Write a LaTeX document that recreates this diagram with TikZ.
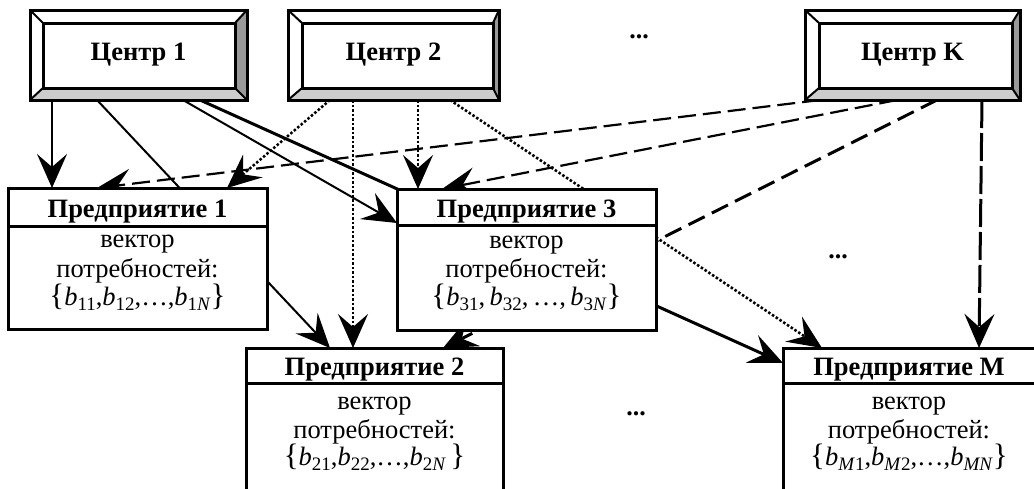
\documentclass[tikz,border=0pt]{standalone}
\usepackage{fontspec}
\setmainfont{Liberation Serif}
\usetikzlibrary{arrows.meta,calc}
\pgfdeclarelayer{bg}
\pgfsetlayers{bg,main}
\newcommand{\bb}[1]{\textit{b}\raisebox{-5pt}{\fontsize{19}{19}\selectfont #1}}
\newcommand{\lbr}{{\fontsize{31}{31}\selectfont\{}}
\newcommand{\rbr}{{\fontsize{31}{31}\selectfont\}}}
\newcommand{\bevel}[5]{%
  \fill[bevR] (#1.north east) -- (#1.south east) -- ([shift={(-#4,-#5)}]#1.south east) -- ([shift={(-#4,#3)}]#1.north east) -- cycle;
  \fill[bevB] (#1.south west) -- (#1.south east) -- ([shift={(-#4,-#5)}]#1.south east) -- ([shift={(#2,-#5)}]#1.south west) -- cycle;
  \draw[bevline] ([shift={(#2,#3)}]#1.north west) rectangle ([shift={(-#4,-#5)}]#1.south east);
  \draw[bevdiag] (#1.north west) -- ([shift={(#2,#3)}]#1.north west)
     (#1.north east) -- ([shift={(-#4,#3)}]#1.north east)
     (#1.south west) -- ([shift={(#2,-#5)}]#1.south west)
     (#1.south east) -- ([shift={(-#4,-#5)}]#1.south east);
  \draw[bevline] (#1.north west) rectangle (#1.south east);
}
\begin{document}
\begin{tikzpicture}[x=1pt,y=-1pt,
  >={Stealth[length=34pt,width=30pt,inset=13pt]},
  font=\fontsize{26.5}{30}\selectfont,
  centre/.style={fill=white, minimum width=#1pt, minimum height=90pt, inner sep=0pt, outer sep=0pt, font=\fontsize{26.5}{30}\selectfont\bfseries},
  bevR/.style={fill=black!40},
  bevB/.style={fill=black!20},
  bevline/.style={line width=3pt},
  bevdiag/.style={line width=2pt},
  ent/.style 2 args={draw, line width=3pt, fill=white, minimum width=#1pt, minimum height=#2pt, inner sep=0pt, outer sep=0pt},
  hdr/.style={anchor=base, inner sep=0pt, font=\fontsize{26.5}{30}\selectfont\bfseries},
  txt/.style={anchor=base, inner sep=0pt},
  divider/.style={line width=3pt},
  solidc/.style={->, line width=2pt},
  boldc/.style={->, line width=3pt},
  dotc/.style={->, line width=2.5pt, dash pattern=on 2.5pt off 2pt},
  dashc/.style={->, line width=2.2pt, dash pattern=on 18pt off 7pt},
  dashbold/.style={->, line width=3pt, dash pattern=on 18pt off 8pt},
  longdash/.style={->, line width=3pt, dash pattern=on 28pt off 5pt},
  dotsn/.style={anchor=base, inner sep=0pt, font=\fontsize{26}{29}\selectfont\bfseries}
]
\useasboundingbox (0,0) rectangle (1034,488);

% centres
\node[centre=217] (c1) at (138.5,55) {Центр 1};
\bevel{c1}{13}{13}{12}{12}
\node[centre=211] (c2) at (393.5,55) {Центр 2};
\bevel{c2}{14}{13}{6}{12}
\node[centre=215] (ck) at (912.5,55) {Центр K};
\bevel{ck}{14}{13}{8}{12}

% enterprises
\node[ent={259}{141}] (e1) at (137.5,258.5) {};
\draw[divider] ([shift={(0,38)}]e1.north west) -- ([shift={(0,38)}]e1.north east);
\node[hdr] (e1h) at ([shift={(0,29)}]e1.north) {Предприятие 1};
\node[txt] (e1a) at ([shift={(0,59)}]e1.north) {вектор};
\node[txt] (e1b) at ([shift={(0,89)}]e1.north) {потребностей:};
\node[txt] (e1c) at ([shift={(0,117)}]e1.north) {\lbr\bb{11},\bb{12},…,\bb{1\textit{N}}\rbr};

\node[ent={259}{141}] (e3) at (526.5,259.5) {};
\draw[divider] ([shift={(0,36)}]e3.north west) -- ([shift={(0,36)}]e3.north east);
\node[hdr] (e3h) at ([shift={(0,28)}]e3.north) {Предприятие 3};
\node[txt] (e3a) at ([shift={(0,59)}]e3.north) {вектор};
\node[txt] (e3b) at ([shift={(0,88)}]e3.north) {потребностей:};
\node[txt] (e3c) at ([shift={(0,116)}]e3.north) {\lbr\bb{31},\,\bb{32},\,…,\,\bb{3\textit{N}}\rbr};

\node[ent={257}{160}] (e2) at (374.5,428) {};
\draw[divider] ([shift={(0,35)}]e2.north west) -- ([shift={(0,35)}]e2.north east);
\node[hdr] (e2h) at ([shift={(0,27)}]e2.north) {Предприятие 2};
\node[txt] (e2a) at ([shift={(0,61)}]e2.north) {вектор};
\node[txt] (e2b) at ([shift={(0,90)}]e2.north) {потребностей:};
\node[txt] (e2c) at ([shift={(0,117)}]e2.north) {\lbr\bb{21},\bb{22},…,\bb{2\textit{N}}\,\rbr};

\node[ent={252}{160}] (eM) at (909,428) {};
\draw[divider] ([shift={(0,35)}]eM.north west) -- ([shift={(0,35)}]eM.north east);
\node[hdr] (eMh) at ([shift={(0,27)}]eM.north) {Предприятие M};
\node[txt] (eMa) at ([shift={(0,61)}]eM.north) {вектор};
\node[txt] (eMb) at ([shift={(0,90)}]eM.north) {потребностей:};
\node[txt] (eMc) at ([shift={(0,117)}]eM.north) {\lbr\bb{\textit{M}1},\bb{\textit{M}2},…,\bb{\textit{MN}}\rbr};

% dots
\node[dotsn] (d1) at (639,38) {...};
\node[dotsn] (d2) at (838,258) {...};
\node[dotsn] (d3) at (636,415) {...};

% connectors
\begin{pgfonlayer}{bg}
\fill[white] (0,0) rectangle (1034,488);
\draw[solidc] ([shift={(22,0)}]c1.south west) -- ([shift={(44,0)}]e1.north west);
\draw[solidc] ([shift={(67,0)}]c1.south west) -- ([shift={(84,0)}]e2.north west);
\draw[solidc] ([shift={(153,0)}]c1.south west) -- ([shift={(0,34)}]e3.north west);
\draw[boldc] ([shift={(170,0)}]c1.south west) -- ([shift={(0,15)}]eM.north west);

\draw[dotc] ([shift={(42,0)}]c2.south west) -- ([shift={(219,0)}]e1.north west);
\draw[dotc] ([shift={(65,0)}]c2.south west) -- ([shift={(107,0)}]e2.north west);
\draw[dotc] ([shift={(130,0)}]c2.south west) -- ([shift={(21,0)}]e3.north west);
\draw[dotc] ([shift={(162,0)}]c2.south west) -- ([shift={(39,0)}]eM.north west);

\draw[dashc] ([shift={(15,0)}]ck.south west) -- ([shift={(89,0)}]e1.north west);
\draw[dashc] ([shift={(92,0)}]ck.south west) -- ([shift={(45,0)}]e3.north west);
\draw[dashbold] ([shift={(132,0)}]ck.south west) -- ([shift={(197,0)}]e2.north west);
\draw[longdash] ([shift={(177,0)}]ck.south west) -- ([shift={(196,0)}]eM.north west);
\end{pgfonlayer}
\end{tikzpicture}
\end{document}
